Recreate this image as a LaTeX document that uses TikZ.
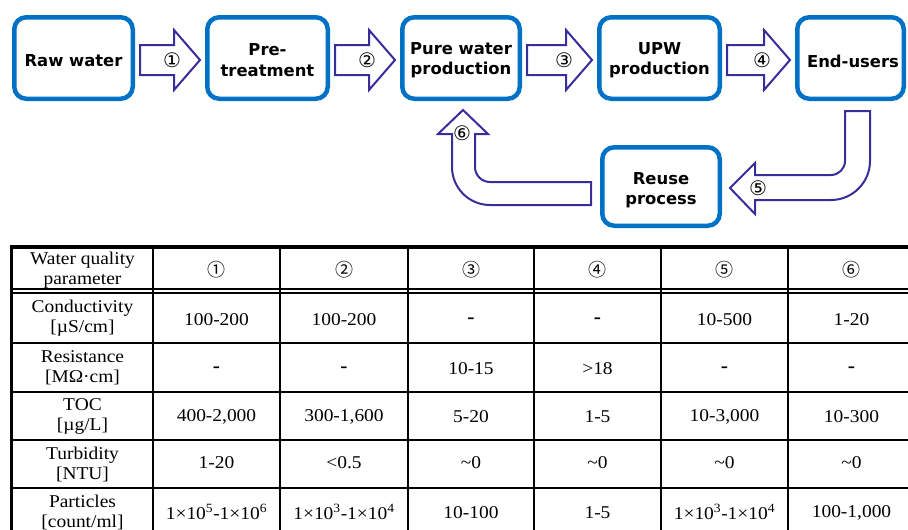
\documentclass[tikz,border=0pt]{standalone}
\usepackage{fontspec}
\setmainfont{Liberation Serif}[FakeStretch=1.08]
\newfontfamily\boxfont{DejaVu Sans}
\newfontfamily\circfont{DejaVu Sans}
\newfontfamily\cjkfont{Noto Sans CJK JP}
\usetikzlibrary{calc}
\definecolor{boxblue}{RGB}{0,114,198}
\definecolor{arrowblue}{RGB}{55,45,155}
\newcommand\blockarrow[3]{%
  \draw[blockarr] let \p1=(#1.east), \p2=(#2.west) in
    (\x1+5pt,-45pt) -- (\x2-31pt,-45pt) -- (\x2-31pt,-30pt) -- (\x2-5pt,-60pt)
    -- (\x2-31pt,-90pt) -- (\x2-31pt,-75pt) -- (\x1+5pt,-75pt) -- cycle
    (\x2-33pt,-60pt) node[num] {#3};}
\newcommand\dsh{\textbf{\fontsize{20}{20}\selectfont -}}
\begin{document}
\begin{tikzpicture}[x=1pt,y=-1pt,
  box/.style={draw=boxblue, line width=4.5pt, rounded corners=12pt, fill=white,
    minimum height=81.5pt, inner sep=0pt},
  boxtxt/.style={font=\boxfont\bfseries\fontsize{16.4}{20.5}\selectfont, align=center, inner sep=0pt},
  blockarr/.style={draw=arrowblue, line width=2pt, fill=white, line join=miter},
  num/.style={font=\circfont\fontsize{20}{20}\selectfont, inner sep=0pt},
  cell/.style={font=\fontsize{18}{20}\selectfont, align=center, inner sep=0pt},
  hnum/.style={font=\cjkfont\fontsize{18}{18}\selectfont, inner sep=0pt},
  tline/.style={line width=1.2pt}]
\useasboundingbox (0,0) rectangle (908,530);

% process boxes
\node[box, minimum width=118.5pt] (raw) at (73.5,58) {};
\node[boxtxt] (rawt) at (73.5,61) {Raw water};
\node[box, minimum width=120.5pt] (pre) at (267.5,58) {};
\node[boxtxt] (pret) at (267.5,60) {Pre-\\treatment};
\node[box, minimum width=117.5pt] (pure) at (461,58) {};
\node[boxtxt] (puret) at (461,60) {Pure water\\production};
\node[box, minimum width=120.5pt] (upw) at (659.5,58) {};
\node[boxtxt] (upwt) at (659.5,60) {UPW\\production};
\node[box, minimum width=106.5pt] (end) at (850.5,58) {};
\node[boxtxt] (endt) at (853,61) {End-users};
\node[box, minimum width=117.5pt, minimum height=78.5pt] (reuse) at (661,186.5) {};
\node[boxtxt] (reuset) at (661,190) {Reuse\\process};

% straight block arrows
\blockarrow{raw}{pre}{①}
\blockarrow{pre}{pure}{②}
\blockarrow{pure}{upw}{③}
\blockarrow{upw}{end}{④}

% bent arrow 5: end-users -> reuse
\begin{scope}[shift={(end.south)}]
\draw[blockarr] (-5.5,10) -- (-5.5,60) .. controls (-5.5,67.7) and (-11.8,74) .. (-19.5,74)
  -- (-95.5,74) -- (-95.5,62) -- (-120.5,87) -- (-95.5,113) -- (-95.5,99) -- (-19.5,99)
  .. controls (2,99) and (19.5,81.5) .. (19.5,60) -- (19.5,10) -- cycle;
\node[num] (n5) at (-92.5,87) {⑤};
\end{scope}

% bent arrow 6: reuse -> pure water
\begin{scope}[shift={(reuse.west)}]
\draw[blockarr] (-137,-76.5) -- (-112,-52.5) -- (-125,-52.5) -- (-125,-19.5)
  .. controls (-125,-11.2) and (-118.3,-4.5) .. (-110,-4.5) -- (-9,-4.5) -- (-9,18.5)
  -- (-110,18.5) .. controls (-131,18.5) and (-148,1.5) .. (-148,-19.5)
  -- (-148,-52.5) -- (-162,-52.5) -- cycle;
\node[num] (n6) at (-138,-53) {⑥};
\end{scope}

% table rules
\draw[line width=4pt] (10,247) -- (908,247);
\draw[line width=3.5pt] (11.5,245) -- (11.5,530);
\foreach \x in {153,280,408,534,661,788} \draw[tline] (\x,247) -- (\x,530);
\foreach \y in {289,293,343,392,440,488} \draw[tline] (13,\y) -- (908,\y);

% header
\node[cell] (h0) at (82.5,270) {Water quality\\parameter};
\node[hnum] (h1) at (216.5,270) {①};
\node[hnum] (h2) at (344,270) {②};
\node[hnum] (h3) at (471,270) {③};
\node[hnum] (h4) at (597.5,270) {④};
\node[hnum] (h5) at (724.5,270) {⑤};
\node[hnum] (h6) at (851.5,270) {⑥};

% conductivity
\node[cell] (a0) at (82.5,318) {Conductivity\\{}[µS/cm]};
\node[cell] (a1) at (216.5,320) {100-200};
\node[cell] (a2) at (344,320) {100-200};
\node[cell] (a3) at (471,321) {\dsh};
\node[cell] (a4) at (597.5,321) {\dsh};
\node[cell] (a5) at (724.5,320) {10-500};
\node[cell] (a6) at (851.5,320) {1-20};

% resistance
\node[cell] (b0) at (82.5,367.5) {Resistance\\{}[MΩ·cm]};
\node[cell] (b1) at (216.5,370) {\dsh};
\node[cell] (b2) at (344,370) {\dsh};
\node[cell] (b3) at (471,369) {10-15};
\node[cell] (b4) at (597.5,369) {>18};
\node[cell] (b5) at (724.5,370) {\dsh};
\node[cell] (b6) at (851.5,370) {\dsh};

% TOC
\node[cell] (c0) at (82.5,416) {TOC\\{}[µg/L]};
\node[cell] (c1) at (216.5,417) {400-2,000};
\node[cell] (c2) at (344,417) {300-1,600};
\node[cell] (c3) at (471,417) {5-20};
\node[cell] (c4) at (597.5,417) {1-5};
\node[cell] (c5) at (724.5,417) {10-3,000};
\node[cell] (c6) at (851.5,417) {10-300};

% turbidity
\node[cell] (d0) at (82.5,464) {Turbidity\\{}[NTU]};
\node[cell] (d1) at (216.5,463) {1-20};
\node[cell] (d2) at (344,463) {<0.5};
\node[cell] (d3) at (471,463) {\textasciitilde0};
\node[cell] (d4) at (597.5,463) {\textasciitilde0};
\node[cell] (d5) at (724.5,463) {\textasciitilde0};
\node[cell] (d6) at (851.5,463) {\textasciitilde0};

% particles
\node[cell] (e0) at (82.5,512) {Particles\\{}[count/ml]};
\node[cell] (e1) at (216.5,512) {1×10\textsuperscript{5}-1×10\textsuperscript{6}};
\node[cell] (e2) at (344,512) {1×10\textsuperscript{3}-1×10\textsuperscript{4}};
\node[cell] (e3) at (471,513) {10-100};
\node[cell] (e4) at (597.5,513) {1-5};
\node[cell] (e5) at (724.5,512) {1×10\textsuperscript{3}-1×10\textsuperscript{4}};
\node[cell] (e6) at (851.5,513) {100-1,000};
\end{tikzpicture}
\end{document}
